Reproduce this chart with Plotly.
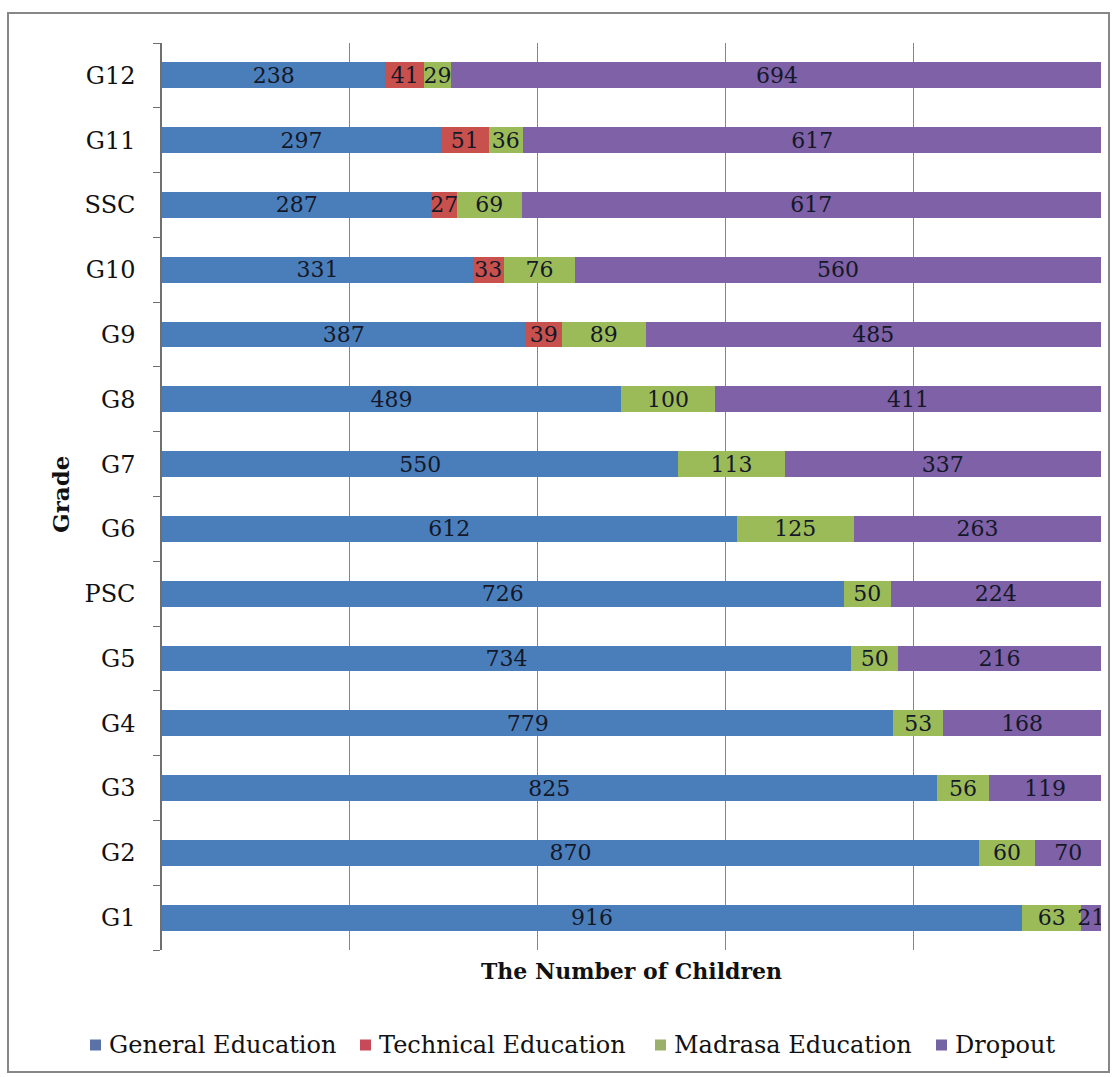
import plotly.graph_objects as go

# Grades, listed bottom to top
grades = ["G1", "G2", "G3", "G4", "G5", "PSC", "G6", "G7", "G8", "G9", "G10", "SSC", "G11", "G12"]

general = [916, 870, 825, 779, 734, 726, 612, 550, 489, 387, 331, 287, 297, 238]
technical = [0, 0, 0, 0, 0, 0, 0, 0, 0, 39, 33, 27, 51, 41]
madrasa = [63, 60, 56, 53, 50, 50, 125, 113, 100, 89, 76, 69, 36, 29]
dropout = [21, 70, 119, 168, 216, 224, 263, 337, 411, 485, 560, 617, 617, 694]

series_names = ["General Education", "Technical Education", "Madrasa Education", "Dropout"]
series_values = [general, technical, madrasa, dropout]
series_colors = ["#4A7EBB", "#C8504D", "#9BBB59", "#7E61A6"]
legend_swatch_colors = ["#5a72a8", "#c84a5a", "#9bb06a", "#7464a4"]

FONT = "DejaVu Serif"
TEXT_COLOR = "#141828"
GRID = "#858585"

W, H = 1116, 1077
ML, MR, MT, MB = 162, 15, 43, 127
PW = W - ML - MR
PH = H - MT - MB


def px_to_paper_x(px):
    return (px - ML) / PW


def px_to_paper_y(py):
    return (MT + PH - py) / PH


fig = go.Figure()
for name, vals, color in zip(series_names, series_values, series_colors):
    fig.add_trace(go.Bar(
        y=grades,
        x=vals,
        name=name,
        orientation="h",
        marker=dict(color=color, line=dict(width=0)),
        text=[str(v) if v else "" for v in vals],
        textposition="inside",
        insidetextanchor="middle",
        textangle=0,
        textfont=dict(family=FONT, size=22, color=TEXT_COLOR),
        hoverinfo="x+y+name",
        showlegend=False,
    ))

# Legend row drawn as swatches + labels along the bottom of the frame
legend_left_px = [90, 360, 655, 936]
legend_y_px = 1045
swatch = 11
shapes = [
    dict(
        type="rect",
        xref="paper", yref="paper",
        x0=px_to_paper_x(8), x1=px_to_paper_x(1109),
        y0=px_to_paper_y(1072), y1=px_to_paper_y(13),
        line=dict(color="#878787", width=2),
        fillcolor="rgba(0,0,0,0)",
        layer="below",
    ),
]
annotations = [
    dict(
        text="<b>The Number of Children</b>",
        x=px_to_paper_x(631), y=px_to_paper_y(971),
        xref="paper", yref="paper",
        xanchor="center", yanchor="middle",
        showarrow=False,
        font=dict(family=FONT, size=22, color="#111111"),
    ),
    dict(
        text="<b>Grade</b>",
        x=px_to_paper_x(60), y=px_to_paper_y(495),
        xref="paper", yref="paper",
        xanchor="center", yanchor="middle",
        textangle=-90,
        showarrow=False,
        font=dict(family=FONT, size=23, color="#111111"),
    ),
]
for name, color, left in zip(series_names, legend_swatch_colors, legend_left_px):
    shapes.append(dict(
        type="rect",
        xref="paper", yref="paper",
        x0=px_to_paper_x(left), x1=px_to_paper_x(left + swatch),
        y0=px_to_paper_y(legend_y_px + swatch / 2), y1=px_to_paper_y(legend_y_px - swatch / 2),
        line=dict(width=0),
        fillcolor=color,
    ))
    annotations.append(dict(
        text=name,
        x=px_to_paper_x(left + swatch + 6), y=px_to_paper_y(legend_y_px),
        xref="paper", yref="paper",
        xanchor="left", yanchor="middle",
        showarrow=False,
        font=dict(family=FONT, size=24, color="#111111"),
    ))

fig.update_layout(
    width=W,
    height=H,
    margin=dict(l=ML, r=MR, t=MT, b=MB, autoexpand=False),
    barmode="stack",
    bargap=0.6,
    paper_bgcolor="white",
    plot_bgcolor="white",
    font=dict(family=FONT, size=22, color="#111111"),
    uniformtext=dict(minsize=22, mode="show"),
    showlegend=False,
    xaxis=dict(
        range=[0, 1000],
        dtick=200,
        showticklabels=False,
        showgrid=True,
        gridcolor=GRID,
        gridwidth=1,
        zeroline=False,
        showline=False,
        ticks="",
        fixedrange=True,
        automargin=False,
    ),
    yaxis=dict(
        type="category",
        categoryorder="array",
        categoryarray=grades,
        showline=True,
        linecolor="#6f6f6f",
        linewidth=1.5,
        ticks="outside",
        tickson="boundaries",
        ticklen=7,
        tickcolor="#6f6f6f",
        ticklabelstandoff=20,
        tickfont=dict(family=FONT, size=24, color="#111111"),
        showgrid=False,
        fixedrange=True,
        automargin=False,
    ),
    annotations=annotations,
    shapes=shapes,
)

fig.write_html("out.html")
